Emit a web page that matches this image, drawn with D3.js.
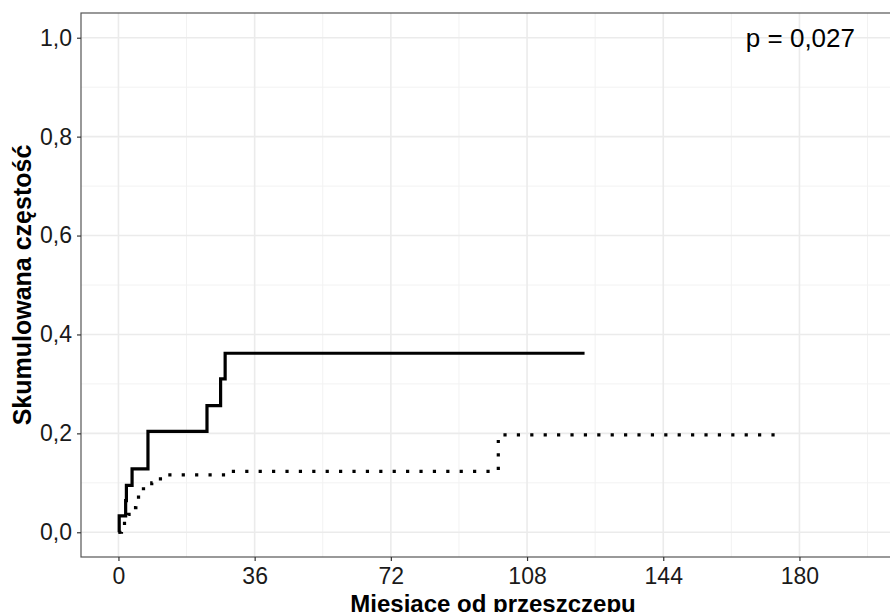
<!DOCTYPE html>
<html>
<head>
<meta charset="utf-8">
<script src="https://cdn.jsdelivr.net/npm/d3@7"></script>
<style>
  body { margin: 0; background: #fff; }
  svg { display: block; font-family: "Liberation Sans", Arial, sans-serif; }
</style>
</head>
<body>
<svg id="chart"></svg>
<script>
const width = 890;
const height = 612;
// panel edges (the right edge runs just past the visible picture)
const panel = { left: 81, right: 905, top: 13, bottom: 557 };

// cumulative incidence, solid group
const solidTime = [0, 0.2, 1.9, 2.1, 3.6, 7.8, 23.4, 27.0, 28.2, 123.2];
const solidCif = [0, 0.033, 0.064, 0.095, 0.128, 0.204, 0.256, 0.31, 0.362, 0.362];

// cumulative incidence, dotted group
const dotTime = [0, 0.8, 1.6, 2.6, 3.8, 4.6, 5.3, 6.0, 6.6, 7.6, 8.8, 10.6, 12.8, 29.0, 100.4, 174.3];
const dotCif = [0, 0.012, 0.024, 0.036, 0.05, 0.062, 0.071, 0.08, 0.088, 0.094, 0.1, 0.108, 0.116, 0.123, 0.197, 0.197];

const xTicks = [0, 36, 72, 108, 144, 180];
const xMinor = [18, 54, 90, 126, 162, 198];
const yTicks = [0, 0.2, 0.4, 0.6, 0.8, 1.0];
const yMinor = [0.1, 0.3, 0.5, 0.7, 0.9];

const pLabel = "p = 0,027";
const xTitle = "Miesiące od przeszczepu";
const yTitle = "Skumulowana częstość";

const svg = d3.select("#chart").attr("width", width).attr("height", height);

const x = d3.scaleLinear().domain([-9.9, 207.9]).range([panel.left, panel.right]);
const y = d3.scaleLinear().domain([-0.05, 1.05]).range([panel.bottom, panel.top]);

const comma = (d) => d3.format(".1f")(d).replace(".", ",");

// grid
const grid = svg.append("g");
grid.selectAll(".xminor").data(xMinor).enter().append("line")
  .attr("x1", (d) => x(d)).attr("x2", (d) => x(d))
  .attr("y1", panel.top).attr("y2", panel.bottom)
  .attr("stroke", "#f2f2f2").attr("stroke-width", 1);
grid.selectAll(".yminor").data(yMinor).enter().append("line")
  .attr("y1", (d) => y(d)).attr("y2", (d) => y(d))
  .attr("x1", panel.left).attr("x2", panel.right)
  .attr("stroke", "#f2f2f2").attr("stroke-width", 1);
grid.selectAll(".xmajor").data(xTicks).enter().append("line")
  .attr("x1", (d) => x(d)).attr("x2", (d) => x(d))
  .attr("y1", panel.top).attr("y2", panel.bottom)
  .attr("stroke", "#ebebeb").attr("stroke-width", 1.6);
grid.selectAll(".ymajor").data(yTicks).enter().append("line")
  .attr("y1", (d) => y(d)).attr("y2", (d) => y(d))
  .attr("x1", panel.left).attr("x2", panel.right)
  .attr("stroke", "#ebebeb").attr("stroke-width", 1.6);

// curves
const line = d3.line()
  .x((d) => x(d[0]))
  .y((d) => y(d[1]))
  .curve(d3.curveStepAfter);

svg.append("path")
  .datum(d3.zip(dotTime, dotCif))
  .attr("d", line)
  .attr("fill", "none")
  .attr("stroke", "#000")
  .attr("stroke-width", 3.2)
  .attr("stroke-dasharray", "3.2 10.2");

svg.append("path")
  .datum(d3.zip(solidTime, solidCif))
  .attr("d", line)
  .attr("fill", "none")
  .attr("stroke", "#000")
  .attr("stroke-width", 3.2);

// panel border
svg.append("rect")
  .attr("x", panel.left).attr("y", panel.top)
  .attr("width", panel.right - panel.left).attr("height", panel.bottom - panel.top)
  .attr("fill", "none").attr("stroke", "#555").attr("stroke-width", 1.2);

// axes
const xAxis = svg.append("g")
  .attr("transform", `translate(0, ${panel.bottom})`)
  .call(d3.axisBottom(x).tickValues(xTicks).tickSize(4).tickPadding(6));
const yAxis = svg.append("g")
  .attr("transform", `translate(${panel.left}, 0)`)
  .call(d3.axisLeft(y).tickValues(yTicks).tickFormat(comma).tickSize(4).tickPadding(5));

[xAxis, yAxis].forEach((g) => {
  g.select(".domain").remove();
  g.selectAll(".tick line").attr("stroke", "#333").attr("stroke-width", 1.2);
  g.selectAll(".tick text")
    .attr("fill", "#1a1a1a")
    .style("font-family", "'Liberation Sans', Arial, sans-serif")
    .style("font-size", "23px");
});
xAxis.selectAll(".tick text").attr("dy", "0.72em");

// p value
svg.append("text")
  .attr("x", 855).attr("y", 47)
  .attr("text-anchor", "end")
  .style("font-size", "26px")
  .attr("fill", "#000")
  .text(pLabel);

// axis titles
svg.append("text")
  .attr("x", (panel.left + panel.right) / 2).attr("y", 612)
  .attr("text-anchor", "middle")
  .style("font-size", "24px").style("font-weight", "bold")
  .attr("fill", "#000")
  .text(xTitle);

svg.append("text")
  .attr("transform", `translate(31, ${(panel.top + panel.bottom) / 2}) rotate(-90)`)
  .attr("text-anchor", "middle")
  .style("font-size", "25px").style("font-weight", "bold")
  .attr("fill", "#000")
  .text(yTitle);
</script>
</body>
</html>
